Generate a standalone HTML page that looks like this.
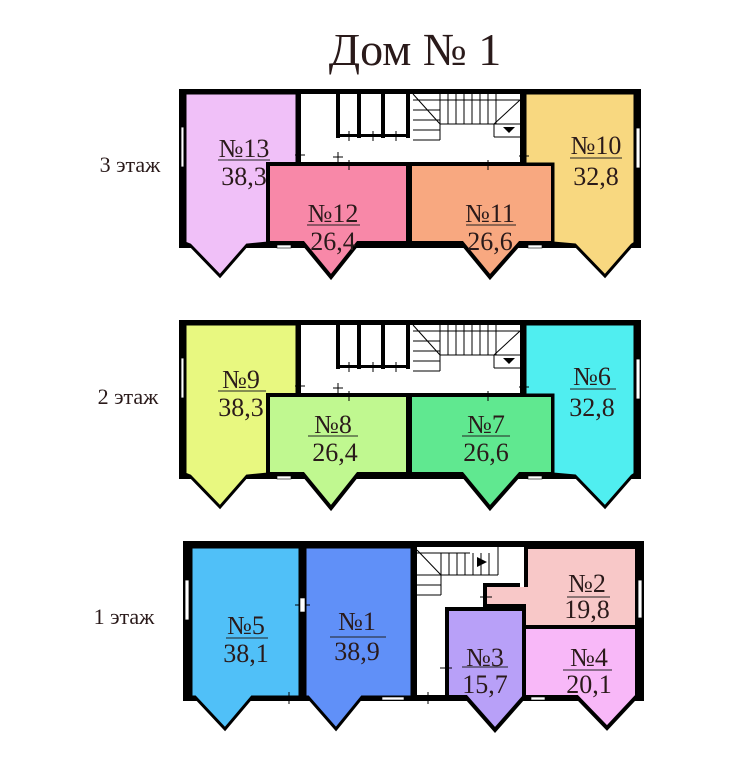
<!DOCTYPE html>
<html><head><meta charset="utf-8"><style>
html,body{margin:0;padding:0;background:#fff}
svg{display:block}
text{font-family:"Liberation Serif",serif;fill:#2a1a1a}
</style></head><body>
<svg width="753" height="768" viewBox="0 0 753 768" xmlns="http://www.w3.org/2000/svg">
<text x="415" y="65" font-size="46" text-anchor="middle">Дом № 1</text>
<text x="130" y="172" font-size="22" text-anchor="middle">3 этаж</text>
<text x="128" y="404" font-size="22" text-anchor="middle">2 этаж</text>
<text x="124" y="624" font-size="22" text-anchor="middle">1 этаж</text>

<defs>
<g id="fl">
  <rect x="179" y="89" width="462" height="159" fill="#fff"/>
  <rect x="179" y="89" width="462" height="5" fill="#000"/>
  <rect x="179" y="89" width="6" height="159" fill="#000"/>
  <rect x="635" y="89" width="6" height="159" fill="#000"/>
  <rect x="179" y="243" width="462" height="5" fill="#000"/>
  <g stroke="#000" stroke-width="1" fill="none">
    <line x1="413" y1="100" x2="520" y2="100"/>
    <line x1="413" y1="110" x2="440" y2="110"/><line x1="413" y1="120" x2="440" y2="120"/><line x1="413" y1="130" x2="440" y2="130"/>
    <line x1="413" y1="140" x2="440" y2="140"/>
    <line x1="440" y1="94" x2="440" y2="140"/><line x1="413" y1="94" x2="440" y2="124"/>
    <line x1="448" y1="94" x2="448" y2="124"/><line x1="456" y1="94" x2="456" y2="124"/><line x1="464" y1="94" x2="464" y2="124"/><line x1="472" y1="94" x2="472" y2="124"/><line x1="480" y1="94" x2="480" y2="124"/><line x1="488" y1="94" x2="488" y2="124"/><line x1="496" y1="94" x2="496" y2="124"/>
    <line x1="440" y1="124" x2="520" y2="124"/><line x1="494" y1="124" x2="520" y2="100"/>
    <line x1="494" y1="124" x2="494" y2="137"/><line x1="494" y1="137" x2="520" y2="137"/>
  </g>
  <path d="M503 127 h12 l-6 6z" fill="#000"/>
  <rect x="336" y="94" width="4" height="44" fill="#000"/>
  <rect x="357" y="94" width="4" height="44" fill="#000"/>
  <rect x="381" y="94" width="4" height="44" fill="#000"/>
  <rect x="406" y="94" width="4" height="44" fill="#000"/>
  <rect x="336" y="134" width="74" height="3" fill="#000"/>
  <rect x="520" y="94" width="5" height="72" fill="#000"/>
  <rect x="181" y="127" width="4" height="40" fill="#fff" stroke="#000" stroke-width="0.8"/>
  <rect x="636" y="128" width="4" height="40" fill="#fff" stroke="#000" stroke-width="0.8"/>
  <rect x="277" y="245" width="14" height="3" fill="#fff" stroke="#000" stroke-width="0.6"/>
  <rect x="528" y="245" width="14" height="3" fill="#fff" stroke="#000" stroke-width="0.6"/>
</g>
<g id="cr" stroke="#000" stroke-width="1">
    <line x1="295" y1="155" x2="305" y2="155"/><line x1="300" y1="150" x2="300" y2="160"/>
    <line x1="333" y1="157" x2="343" y2="157"/><line x1="338" y1="152" x2="338" y2="162"/>
    <line x1="519" y1="156" x2="529" y2="156"/><line x1="524" y1="151" x2="524" y2="161"/>
    <line x1="349" y1="131" x2="349" y2="141"/><line x1="373" y1="131" x2="373" y2="141"/><line x1="396" y1="131" x2="396" y2="141"/>
    <line x1="349" y1="160" x2="349" y2="170"/><line x1="488" y1="160" x2="488" y2="170"/>
</g>
</defs>

<!-- FLOOR 3 -->
<use href="#fl"/>
<polygon points="185,93 297,93 297,164 268,164 268,243 247,245 220,276 190,245 185,243" fill="#f0c0f8" stroke="#000" stroke-width="3" stroke-linejoin="miter"/>
<polygon points="268,164 408,164 408,243 358,243 331,277 303,243 268,243" fill="#f888a8" stroke="#000" stroke-width="4"/>
<polygon points="410,164 553,164 553,243 520,243 490,277 462,243 410,243" fill="#f8a880" stroke="#000" stroke-width="4"/>
<polygon points="525,93 635,93 635,243 632,245 605,276 575,245 553,243 553,164 525,164" fill="#f8d880" stroke="#000" stroke-width="3"/>
<rect x="297" y="93" width="4" height="72" fill="#000"/>
<use href="#cr"/>
<g font-size="26" text-anchor="middle">
<text x="244" y="157">№13</text><line x1="218" y1="160" x2="270" y2="160" stroke="#222"/><text x="244" y="185">38,3</text>
<text x="333" y="222">№12</text><line x1="307" y1="225" x2="360" y2="225" stroke="#222"/><text x="333" y="250">26,4</text>
<text x="490" y="222">№11</text><line x1="466" y1="225" x2="516" y2="225" stroke="#222"/><text x="490" y="250">26,6</text>
<text x="596" y="154">№10</text><line x1="570" y1="158" x2="622" y2="158" stroke="#222"/><text x="596" y="185">32,8</text>
</g>

<!-- FLOOR 2 -->
<g transform="translate(0,231)">
<use href="#fl"/>
<polygon points="185,93 297,93 297,164 268,164 268,243 247,245 220,276 190,245 185,243" fill="#e8f880" stroke="#000" stroke-width="3"/>
<polygon points="268,164 408,164 408,243 358,243 331,277 303,243 268,243" fill="#c0f890" stroke="#000" stroke-width="4"/>
<polygon points="410,164 553,164 553,243 520,243 490,277 462,243 410,243" fill="#60e890" stroke="#000" stroke-width="4"/>
<polygon points="525,93 635,93 635,243 632,245 605,276 575,245 553,243 553,164 525,164" fill="#50eef0" stroke="#000" stroke-width="3"/>
<rect x="297" y="93" width="4" height="72" fill="#000"/>
<use href="#cr"/>
<g font-size="26" text-anchor="middle">
<text x="241" y="157">№9</text><line x1="218" y1="160" x2="266" y2="160" stroke="#222"/><text x="241" y="185">38,3</text>
<text x="333" y="202">№8</text><line x1="308" y1="205" x2="358" y2="205" stroke="#222"/><text x="335" y="230">26,4</text>
<text x="486" y="202">№7</text><line x1="462" y1="205" x2="510" y2="205" stroke="#222"/><text x="486" y="230">26,6</text>
<text x="592" y="154">№6</text><line x1="570" y1="158" x2="616" y2="158" stroke="#222"/><text x="592" y="185">32,8</text>
</g>
</g>

<!-- FLOOR 1 -->
<rect x="183" y="541" width="461" height="160" fill="#fff"/>
<rect x="183" y="541" width="461" height="6" fill="#000"/>
<rect x="183" y="541" width="8" height="160" fill="#000"/>
<rect x="637" y="541" width="7" height="160" fill="#000"/>
<rect x="183" y="695" width="461" height="6" fill="#000"/>
<polygon points="191,547 300,547 300,697 252,697 225,729 195,697 191,697" fill="#50c0f8" stroke="#000" stroke-width="3"/>
<polygon points="305,547 412,547 412,697 362,697 336,729 308,697 305,697" fill="#6090f8" stroke="#000" stroke-width="3"/>
<rect x="300" y="547" width="5" height="150" fill="#000"/>
<rect x="412" y="547" width="5" height="150" fill="#000"/>
<polygon points="524,547 637,547 637,627 524,627 524,606 485,606 485,585 524,585" fill="#f8c8c8" stroke="#000" stroke-width="4"/>
<polygon points="447,609 524,609 524,697 524,697 495,730 466,697 447,697" fill="#b8a0f8" stroke="#000" stroke-width="4"/>
<polygon points="524,627 637,627 637,697 636,697 607,728 577,697 524,697" fill="#f8b8f8" stroke="#000" stroke-width="4"/>
<rect x="520" y="547" width="8" height="40" fill="#fff"/>
<rect x="524" y="547" width="4" height="40" fill="#000"/>
<g stroke="#000" stroke-width="1" fill="none">
  <line x1="417" y1="553" x2="470" y2="553"/><line x1="417" y1="575" x2="441" y2="575"/><line x1="417" y1="585" x2="441" y2="585"/><line x1="417" y1="595" x2="441" y2="595"/>
  <line x1="441" y1="553" x2="441" y2="595"/><line x1="417" y1="550" x2="441" y2="575"/>
  <line x1="449" y1="553" x2="449" y2="575"/><line x1="457" y1="553" x2="457" y2="575"/><line x1="465" y1="553" x2="465" y2="575"/><line x1="473" y1="553" x2="473" y2="575"/><line x1="481" y1="553" x2="481" y2="575"/><line x1="489" y1="553" x2="489" y2="575"/>
  <line x1="441" y1="575" x2="498" y2="575"/><line x1="498" y1="547" x2="498" y2="575"/>
  <line x1="295" y1="605" x2="310" y2="605"/><line x1="302" y1="598" x2="302" y2="612"/>
  <line x1="440" y1="668" x2="452" y2="668"/><line x1="446" y1="662" x2="446" y2="674"/>
  <line x1="480" y1="597" x2="492" y2="597"/><line x1="486" y1="591" x2="486" y2="603"/>
  <line x1="283" y1="698" x2="295" y2="698"/><line x1="289" y1="692" x2="289" y2="704"/>
  <line x1="422" y1="698" x2="434" y2="698"/><line x1="428" y1="692" x2="428" y2="704"/>
</g>
<path d="M477 557 l10 5 l-10 5z" fill="#000"/>
<rect x="185" y="580" width="4" height="40" fill="#fff" stroke="#000" stroke-width="0.8"/>
<rect x="638" y="580" width="4" height="38" fill="#fff" stroke="#000" stroke-width="0.8"/>
<rect x="300" y="598" width="5" height="14" fill="#fff" stroke="#000" stroke-width="0.6"/>
<rect x="382" y="697" width="22" height="3" fill="#fff" stroke="#000" stroke-width="0.6"/>
<rect x="531" y="697" width="14" height="3" fill="#fff" stroke="#000" stroke-width="0.6"/>
<g font-size="26" text-anchor="middle">
<text x="246" y="634">№5</text><line x1="226" y1="638" x2="268" y2="638" stroke="#222"/><text x="246" y="662">38,1</text>
<text x="357" y="630">№1</text><line x1="330" y1="637" x2="386" y2="637" stroke="#222"/><text x="357" y="660">38,9</text>
<text x="485" y="666">№3</text><line x1="462" y1="667" x2="508" y2="667" stroke="#222"/><text x="485" y="693">15,7</text>
<text x="587" y="592">№2</text><line x1="567" y1="597" x2="610" y2="597" stroke="#222"/><text x="587" y="618">19,8</text>
<text x="589" y="666">№4</text><line x1="563" y1="670" x2="612" y2="670" stroke="#222"/><text x="589" y="693">20,1</text>
</g>
</svg>
</body></html>
